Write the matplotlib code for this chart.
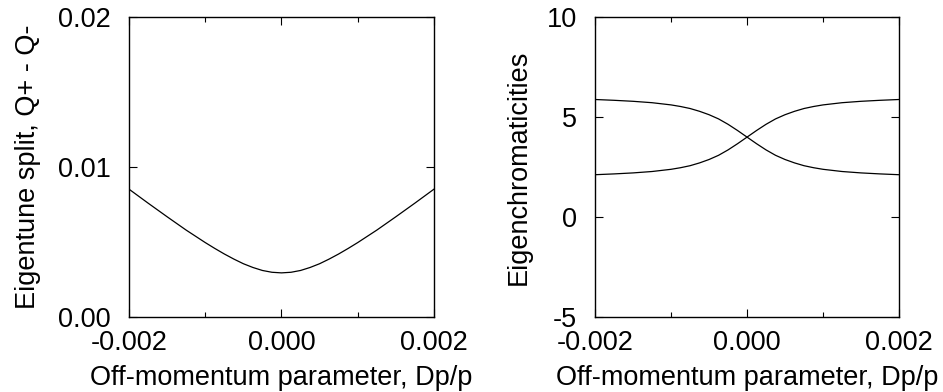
import numpy as np
import matplotlib.pyplot as plt
from matplotlib.ticker import MultipleLocator

plt.rcParams['font.family'] = ['Liberation Sans', 'DejaVu Sans']
plt.rcParams['font.size'] = 19.5
plt.rcParams['axes.unicode_minus'] = False

# off-momentum parameter Dp/p
dpp = [-0.002, -0.00175, -0.0015, -0.00125, -0.001, -0.000875, -0.00075,
       -0.000625, -0.0005, -0.000375, -0.00025, -0.000125, 0.0,
       0.000125, 0.00025, 0.000375, 0.0005, 0.000625, 0.00075,
       0.000875, 0.001, 0.00125, 0.0015, 0.00175, 0.002]

# eigentune split Q+ - Q-
split = [0.00853, 0.00760, 0.00669, 0.00580, 0.00497, 0.00458, 0.00421,
         0.00387, 0.00356, 0.00331, 0.00311, 0.00299, 0.00295,
         0.00299, 0.00311, 0.00331, 0.00356, 0.00387, 0.00421,
         0.00458, 0.00497, 0.00580, 0.00669, 0.00760, 0.00853]

# eigenchromaticities, the two branches
chrom_a = [5.88, 5.84, 5.79, 5.72, 5.61, 5.53, 5.43, 5.29, 5.12, 4.91, 4.64,
           4.33, 4.00, 3.67, 3.36, 3.09, 2.88, 2.71, 2.57, 2.47, 2.39, 2.28,
           2.21, 2.16, 2.12]
chrom_b = [2.12, 2.16, 2.21, 2.28, 2.39, 2.47, 2.57, 2.71, 2.88, 3.09, 3.36,
           3.67, 4.00, 4.33, 4.64, 4.91, 5.12, 5.29, 5.43, 5.53, 5.61, 5.72,
           5.79, 5.84, 5.88]

fig = plt.figure(figsize=(9.43, 3.92), dpi=100)
ax1 = fig.add_axes([0.1368, 0.191, 0.3234, 0.7654])
ax2 = fig.add_axes([0.631, 0.191, 0.3224, 0.7654])

ax1.plot(dpp, split, color='black', lw=0.9)
ax1.set_ylim(0, 0.02)
ax1.set_yticks([0, 0.01, 0.02])
ax1.set_yticklabels(['0.00', '0.01', '0.02'])
ax1.set_ylabel('Eigentune split, Q+ - Q-', labelpad=12)

ax2.plot(dpp, chrom_a, color='black', lw=0.9)
ax2.plot(dpp, chrom_b, color='black', lw=0.9)
ax2.set_ylim(-5, 10)
ax2.set_yticks([-5, 0, 5, 10])
ax2.set_ylabel('Eigenchromaticities', labelpad=11)

for ax in (ax1, ax2):
    ax.set_xlim(-0.002, 0.002)
    ax.set_xticks([-0.002, 0.0, 0.002])
    ax.set_xticklabels(['-0.002', '0.000', '0.002'])
    ax.xaxis.set_minor_locator(MultipleLocator(0.001))
    ax.set_xlabel('Off-momentum parameter, Dp/p', labelpad=7)
    ax.tick_params(which='both', direction='in', top=True, right=True,
                   width=0.8)
    ax.tick_params(which='major', length=6)
    ax.tick_params(which='minor', length=3.5)
    ax.tick_params(axis='y', pad=13)
    ax.tick_params(axis='x', pad=9)
    for s in ax.spines.values():
        s.set_linewidth(1.0)

fig.savefig('out.png', dpi=100)
